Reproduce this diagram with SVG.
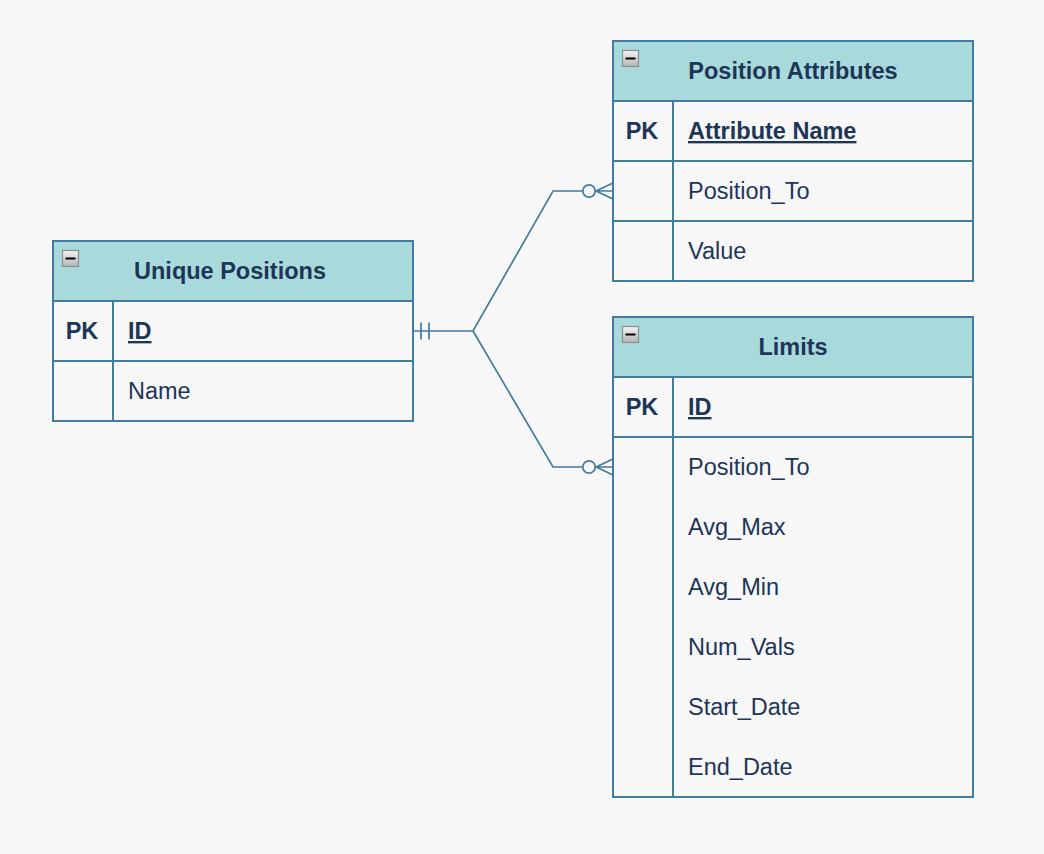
<svg xmlns="http://www.w3.org/2000/svg" width="1044" height="854" viewBox="0 0 1044 854">
<style>
.bg{fill:#F7F7F7}
.hdr{fill:#A8DADC;stroke:#457B9D;stroke-width:2}
.body{fill:#F7F7F7;stroke:#457B9D;stroke-width:2}
.ln{stroke:#457B9D;stroke-width:2;fill:none}
.t{font-family:"Liberation Sans",Arial,Helvetica,sans-serif;font-size:23.5px;fill:#1D3557}
.b{font-weight:bold}
.u{text-decoration:underline}
.c{text-anchor:middle}
.conn{stroke:#457B9D;stroke-width:1.7;fill:none}
.icon{fill:url(#ig);stroke:#8E8E8E;stroke-width:1.2}
.minus{stroke:#000;stroke-width:2}
</style>
<defs>
<linearGradient id="ig" x1="0" y1="0" x2="0" y2="1">
<stop offset="0" stop-color="#F4F4F4"/>
<stop offset="1" stop-color="#B4B4B4"/>
</linearGradient>
</defs>
<rect class="bg" x="0" y="0" width="1044" height="854"/>

<g id="connectors">
<path class="conn" d="M413,331 H473 L553,191 H583"/>
<path class="conn" d="M473,331 L553,467 H583"/>
<line class="conn" x1="421" y1="322.5" x2="421" y2="339.5"/>
<line class="conn" x1="429" y1="322.5" x2="429" y2="339.5"/>
<circle cx="589" cy="191" r="6.2" fill="#F7F7F7" stroke="#457B9D" stroke-width="1.7"/>
<path class="conn" d="M613,183 L596,191 L613,199 M596,191 H613"/>
<circle cx="589" cy="467" r="6.2" fill="#F7F7F7" stroke="#457B9D" stroke-width="1.7"/>
<path class="conn" d="M613,459 L596,467 L613,475 M596,467 H613"/>
</g>

<g id="unique-positions">
<rect class="body" x="53" y="241" width="360" height="180"/>
<rect class="hdr" x="53" y="241" width="360" height="60"/>
<line class="ln" x1="53" y1="361" x2="413" y2="361"/>
<line class="ln" x1="113" y1="301" x2="113" y2="421"/>
<rect class="icon" x="62.5" y="250.5" width="16" height="16"/>
<line class="minus" x1="65.5" y1="258.5" x2="75.5" y2="258.5"/>
<text class="t b c" x="230" y="279">Unique Positions</text>
<text class="t b c" x="82" y="339">PK</text>
<text class="t b u" x="128" y="339">ID</text>
<text class="t" x="128" y="399">Name</text>
</g>

<g id="position-attributes">
<rect class="body" x="613" y="41" width="360" height="240"/>
<rect class="hdr" x="613" y="41" width="360" height="60"/>
<line class="ln" x1="613" y1="161" x2="973" y2="161"/>
<line class="ln" x1="613" y1="221" x2="973" y2="221"/>
<line class="ln" x1="673" y1="101" x2="673" y2="281"/>
<rect class="icon" x="622.5" y="50.5" width="16" height="16"/>
<line class="minus" x1="625.5" y1="58.5" x2="635.5" y2="58.5"/>
<text class="t b c" x="793" y="79">Position Attributes</text>
<text class="t b c" x="642" y="139">PK</text>
<text class="t b u" x="688" y="139">Attribute Name</text>
<text class="t" x="688" y="199">Position_To</text>
<text class="t" x="688" y="259">Value</text>
</g>

<g id="limits">
<rect class="body" x="613" y="317" width="360" height="480"/>
<rect class="hdr" x="613" y="317" width="360" height="60"/>
<line class="ln" x1="613" y1="437" x2="973" y2="437"/>
<line class="ln" x1="673" y1="377" x2="673" y2="797"/>
<rect class="icon" x="622.5" y="326.5" width="16" height="16"/>
<line class="minus" x1="625.5" y1="334.5" x2="635.5" y2="334.5"/>
<text class="t b c" x="793" y="355">Limits</text>
<text class="t b c" x="642" y="415">PK</text>
<text class="t b u" x="688" y="415">ID</text>
<text class="t" x="688" y="475">Position_To</text>
<text class="t" x="688" y="535">Avg_Max</text>
<text class="t" x="688" y="595">Avg_Min</text>
<text class="t" x="688" y="655">Num_Vals</text>
<text class="t" x="688" y="715">Start_Date</text>
<text class="t" x="688" y="775">End_Date</text>
</g>
</svg>
